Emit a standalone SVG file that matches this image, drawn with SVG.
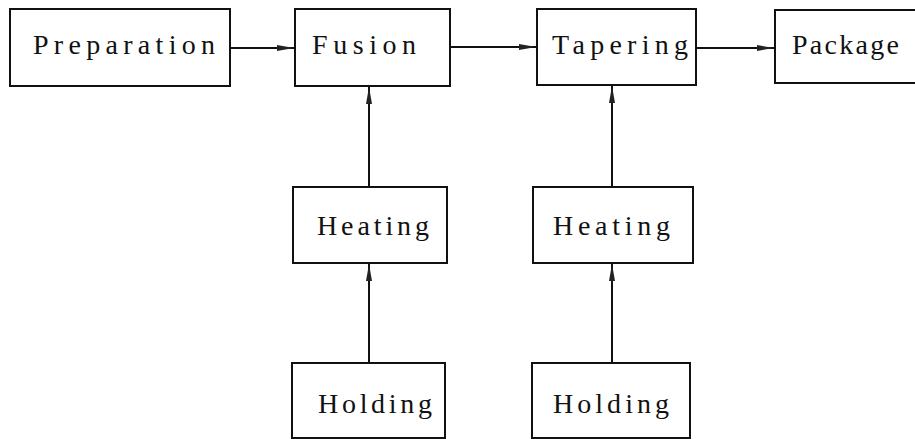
<svg xmlns="http://www.w3.org/2000/svg" width="915" height="439" viewBox="0 0 915 439">
  <style>
    .box { fill: #ffffff; stroke: #111111; stroke-width: 2; }
    .lbl { font-family: "Liberation Serif", "DejaVu Serif", serif; font-size: 28px; fill: #111111; text-anchor: start; }
    .wire { stroke: #111111; stroke-width: 2; fill: none; marker-end: url(#head); }
  </style>
  <defs>
    <marker id="head" viewBox="0 0 17 8" refX="17" refY="4" markerWidth="17" markerHeight="8" markerUnits="userSpaceOnUse" orient="auto">
      <path d="M0,1 L17,4 L0,7 Z" fill="#222222"/>
    </marker>
  </defs>
  <rect width="915" height="439" fill="#ffffff"/>

  <g id="connectors">
    <line class="wire" x1="231" y1="48" x2="294" y2="48"/>
    <line class="wire" x1="451" y1="47" x2="536" y2="47"/>
    <line class="wire" x1="697" y1="48" x2="774" y2="48"/>
    <line class="wire" x1="369" y1="187" x2="369" y2="87"/>
    <line class="wire" x1="369" y1="363" x2="369" y2="264"/>
    <line class="wire" x1="612" y1="187" x2="612" y2="86"/>
    <line class="wire" x1="612" y1="363" x2="612" y2="264"/>
  </g>

  <g id="preparation">
    <rect class="box" x="10" y="9" width="220" height="77"/>
    <text class="lbl" x="33" y="54" textLength="182" lengthAdjust="spacing">Preparation</text>
  </g>
  <g id="fusion">
    <rect class="box" x="295" y="9" width="155" height="77"/>
    <text class="lbl" x="312" y="54" textLength="104" lengthAdjust="spacing">Fusion</text>
  </g>
  <g id="tapering">
    <rect class="box" x="537" y="9" width="159" height="76"/>
    <text class="lbl" x="552" y="54" textLength="136" lengthAdjust="spacing">Tapering</text>
  </g>
  <g id="package">
    <rect class="box" x="775" y="10" width="150" height="73"/>
    <text class="lbl" x="792" y="54" textLength="107" lengthAdjust="spacing">Package</text>
  </g>
  <g id="heating-1">
    <rect class="box" x="293" y="187" width="154" height="76"/>
    <text class="lbl" x="317" y="235" textLength="112" lengthAdjust="spacing">Heating</text>
  </g>
  <g id="heating-2">
    <rect class="box" x="533" y="187" width="160" height="76"/>
    <text class="lbl" x="553" y="235" textLength="117" lengthAdjust="spacing">Heating</text>
  </g>
  <g id="holding-1">
    <rect class="box" x="292" y="363" width="153" height="75"/>
    <text class="lbl" x="318" y="413" textLength="114" lengthAdjust="spacing">Holding</text>
  </g>
  <g id="holding-2">
    <rect class="box" x="532" y="363" width="158" height="75"/>
    <text class="lbl" x="553" y="413" textLength="116" lengthAdjust="spacing">Holding</text>
  </g>
</svg>
